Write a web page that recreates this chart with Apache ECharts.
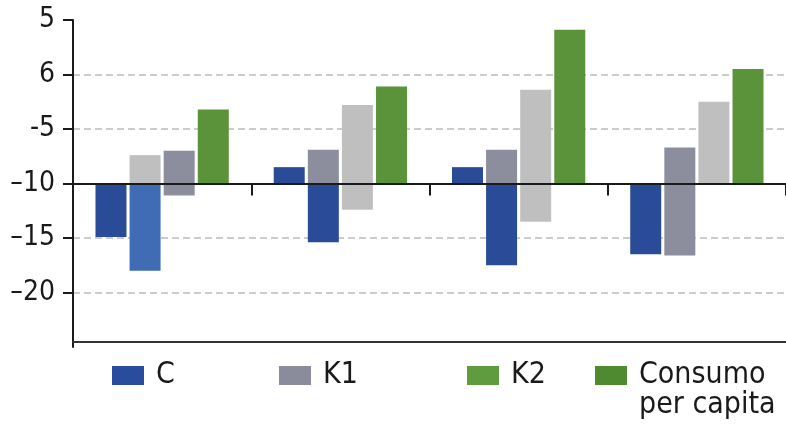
<!DOCTYPE html>
<html>
<head>
<meta charset="utf-8">
<script src="https://cdn.jsdelivr.net/npm/echarts@6/dist/echarts.min.js"></script>
<style>html,body{margin:0;padding:0;background:#fff;}#c{width:786px;height:425px;}</style>
</head>
<body>
<div id="c"></div>
<script>
// ---- data ----
const groups = ['1', '2', '3', '4'];
const slot1Values = [-4.9, 1.5, 1.5, -6.5];
const slot2Upper = [2.6, 3.1, 3.1, 3.3];
const slot2Lower = [-8.0, -5.4, -7.5, -6.6];
const slot3Upper = [3.0, 7.2, 8.6, 7.5];
const slot3Lower = [-1.1, -2.4, -3.5, null];
const slot4Values = [6.8, 8.9, 14.1, 10.5];
const yTickValues = [15, 10, 5, 0, -5, -10];
const yTickLabels = ['5', '6', '-5', '\u201310', '\u201315', '\u201320'];
const legendNames = ['C', 'K1', 'K2', 'Consumo per capita'];

// ---- styles ----
const DB = '#2a4b98', LB = '#3f6cb5', GR = '#8c8e9e', LG = '#bfbfbf', GN = '#5a933a';
const slot2UpperCol = [LG, GR, GR, GR];
const slot2LowerCol = [LB, DB, DB, GR];
const slot3UpperCol = [GR, LG, LG, LG];
const slot3LowerCol = [GR, LG, LG, LG];
const legendCols = ['#2a4c9c', '#8a8c9b', '#5f9c40', '#4f8a30'];
const legendLeft = [112, 279, 467, 595];
const FONT = '"Liberation Sans Narrow", "DejaVu Sans Condensed", "Noto Sans", sans-serif';

function items(vals, cols) {
  return vals.map((v, i) => v === null ? null : { value: v, itemStyle: { color: Array.isArray(cols) ? cols[i] : cols } });
}
function bar(name, stack, vals, cols) {
  return { name: name, type: 'bar', stack: stack, barWidth: 31, barGap: '10%', data: items(vals, cols), z: 2 };
}

const series = [
  bar('s1', 'a', slot1Values, DB),
  bar('s2u', 'b', slot2Upper, slot2UpperCol),
  bar('s2l', 'b', slot2Lower, slot2LowerCol),
  bar('s3u', 'c', slot3Upper, slot3UpperCol),
  bar('s3l', 'c', slot3Lower, slot3LowerCol),
  bar('s4', 'd', slot4Values, GN)
];
legendNames.forEach((n, i) => {
  series.push({ name: n, type: 'bar', xAxisIndex: 1, data: [], itemStyle: { color: legendCols[i] } });
});

const legends = legendNames.map((n, i) => {
  const multi = n === 'Consumo per capita';
  return {
    data: [n],
    left: legendLeft[i],
    top: multi ? 330.5 : 360.5,
    padding: 0,
    itemWidth: 32,
    itemHeight: 19,
    icon: 'rect',
    selectedMode: false,
    formatter: multi ? ' \nConsumo\nper capita' : '{name}',
    textStyle: {
      fontFamily: FONT, fontSize: 30, color: '#1a1a1a', lineHeight: 30,
      padding: [0, 0, 0, 7]
    }
  };
});

const chart = echarts.init(document.getElementById('c'), null, { renderer: 'canvas' });
chart.setOption({
  animation: false,
  backgroundColor: '#ffffff',
  grid: { left: 73, top: 20, width: 728, height: 327, containLabel: false },
  legend: legends,
  xAxis: [
    {
      type: 'category', data: groups, boundaryGap: true,
      axisLine: { show: true, onZero: true, lineStyle: { color: '#1a1a1a', width: 2 } },
      axisTick: { show: true, length: 12, lineStyle: { color: '#1a1a1a', width: 2 } },
      axisLabel: { show: false },
      splitLine: { show: false },
      z: 5
    },
    {
      type: 'category', data: groups, position: 'bottom', offset: -5,
      axisLine: { show: true, onZero: false, lineStyle: { color: '#333333', width: 2 } },
      axisTick: { show: false }, axisLabel: { show: false }, splitLine: { show: false }
    }
  ],
  yAxis: {
    type: 'value', min: -15, max: 15, interval: 5,
    axisLine: { show: true, lineStyle: { color: '#1a1a1a', width: 2 } },
    axisTick: { show: true, length: 10, customValues: yTickValues, lineStyle: { color: '#1a1a1a', width: 2 } },
    axisLabel: {
      show: true, margin: 18, customValues: yTickValues,
      fontFamily: FONT, fontSize: 28, color: '#1a1a1a',
      formatter: function (v) { const k = yTickValues.indexOf(v); return k >= 0 ? yTickLabels[k] : ''; }
    },
    splitLine: { show: true, showMinLine: false, lineStyle: { color: '#cccccc', width: 2, type: [7, 4] } }
  },
  series: series
});
</script>
</body>
</html>
